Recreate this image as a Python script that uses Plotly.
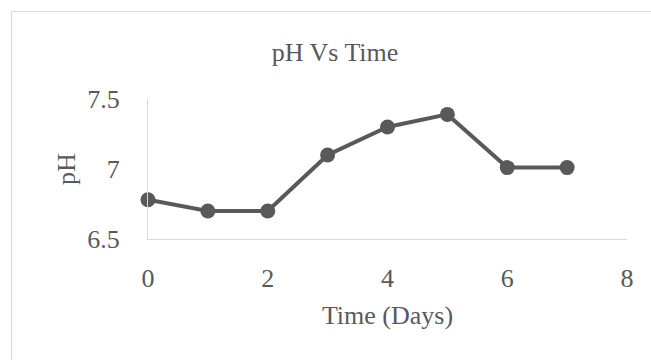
import plotly.graph_objects as go

days = [0, 1, 2, 3, 4, 5, 6, 7]
ph = [6.78, 6.70, 6.70, 7.10, 7.30, 7.39, 7.01, 7.01]
x_ticks = [0, 2, 4, 6, 8]
y_ticks = [6.5, 7, 7.5]
y_tick_labels = ["6.5", "7", "7.5"]

W, H = 651, 360
L, R, T, B = 148, 24, 99, 121
pw, ph_ = W - L - R, H - T - B

def px_to_paper_x(px):
    return (px - L) / pw

def px_to_paper_y(py):
    return (H - B - py) / ph_

grey = "#595959"
font = "Liberation Serif, Times New Roman, serif"
FS = 26

fig = go.Figure()
fig.add_trace(go.Scatter(
    x=days, y=ph, mode="lines+markers",
    line=dict(color=grey, width=4),
    marker=dict(color=grey, size=15),
    showlegend=False, cliponaxis=False,
))

fig.update_layout(
    width=W, height=H,
    margin=dict(l=L, r=R, t=T, b=B),
    paper_bgcolor="white", plot_bgcolor="white",
    font=dict(family=font, color=grey, size=FS),
    title=dict(text="pH Vs Time", x=px_to_paper_x(335), xref="paper",
               y=(H - 52) / H, yanchor="middle", xanchor="center",
               font=dict(size=FS, color=grey, family=font)),
    xaxis=dict(range=[0, 8], tickvals=x_ticks, showgrid=False, zeroline=False,
               showline=True, linecolor="#d9d9d9", linewidth=1, ticks="",
               ticklabelstandoff=16,
               title=dict(text="Time (Days)", standoff=13, font=dict(size=FS)),
               tickfont=dict(size=FS)),
    yaxis=dict(range=[6.5, 7.5], tickvals=y_ticks, ticktext=y_tick_labels,
               showgrid=False, zeroline=False, showline=True,
               linecolor="#d9d9d9", linewidth=1, ticks="",
               ticklabelstandoff=22,
               title=dict(text="pH", standoff=4, font=dict(size=FS)),
               tickfont=dict(size=FS)),
    shapes=[dict(type="rect", xref="paper", yref="paper",
                 x0=px_to_paper_x(11.5), x1=px_to_paper_x(660),
                 y0=px_to_paper_y(370), y1=px_to_paper_y(11.5),
                 line=dict(color="#d9d9d9", width=1.2), fillcolor="rgba(0,0,0,0)",
                 layer="below")],
)

fig.write_html("out.html")
